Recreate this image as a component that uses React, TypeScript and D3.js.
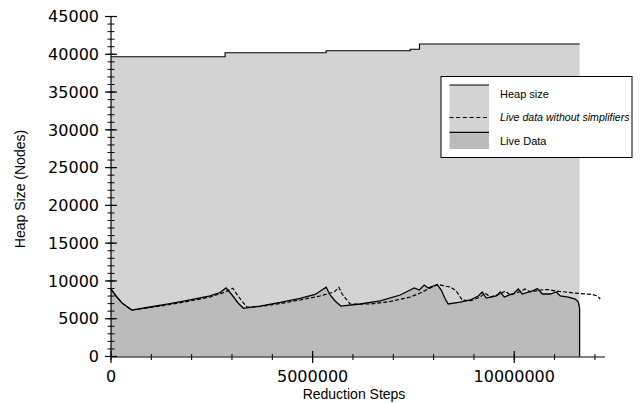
import React from "react";
import * as d3 from "d3";

// Heap size (step function)
const heapSteps = [0, 2.829e6, 5.335e6, 7.419e6, 7.65e6, 11.62e6];
const heapNodes = [39680, 40210, 40470, 40660, 41360, 41360];

// Live data (solid)
const liveSteps = [0, 0.124, 0.273, 0.514, 0.968, 1.464, 1.96, 2.457, 2.705, 2.854, 3.002, 3.151, 3.283, 3.697, 4.194, 4.69, 5.062, 5.335, 5.434, 5.558, 5.7, 6.179, 6.675, 7.171, 7.419, 7.519, 7.643, 7.767, 7.866, 7.99, 8.089, 8.189, 8.288, 8.362, 8.66, 8.908, 9.107, 9.206, 9.305, 9.553, 9.653, 9.752, 10.0, 10.099, 10.199, 10.447, 10.571, 10.695, 10.893, 11.042, 11.141, 11.34, 11.514, 11.588, 11.62].map((v) => v * 1e6);
const liveNodes = [8930, 8010, 7080, 6150, 6550, 7010, 7480, 8010, 8470, 9070, 8140, 7080, 6380, 6680, 7150, 7680, 8210, 9160, 8140, 7350, 6680, 6950, 7350, 8140, 8800, 9070, 8800, 9460, 9070, 9330, 9530, 8800, 7610, 6950, 7210, 7480, 8010, 8540, 7740, 8010, 8540, 7870, 8400, 8930, 8270, 8670, 9000, 8270, 8270, 8540, 8010, 7870, 7610, 7210, 6420];

// Live data without simplifiers (dashed)
const rawSteps = [0, 0.124, 0.273, 0.514, 0.968, 1.464, 1.96, 2.457, 2.829, 3.02, 3.102, 3.226, 3.367, 3.697, 4.194, 4.69, 5.186, 5.533, 5.65, 5.732, 5.831, 5.931, 6.427, 6.923, 7.419, 7.667, 7.916, 8.114, 8.263, 8.412, 8.561, 8.71, 8.908, 9.156, 9.28, 9.404, 9.653, 9.777, 9.901, 10.149, 10.273, 10.397, 10.645, 10.844, 11.017, 11.266, 11.514, 11.762, 11.935, 12.06, 12.134].map((v) => v * 1e6);
const rawNodes = [8930, 8010, 7080, 6150, 6480, 6880, 7350, 7870, 8540, 9030, 8400, 7470, 6550, 6620, 7010, 7480, 8010, 8540, 9160, 8270, 7610, 6950, 6950, 7280, 7870, 8400, 9070, 9530, 9330, 9200, 8670, 7470, 7350, 7870, 8400, 7870, 8270, 8670, 8140, 8600, 8930, 8540, 8800, 8870, 8670, 8540, 8400, 8270, 8210, 8010, 7610];

const xMajor = [0, 5000000, 10000000];
const xMinor = d3.range(0, 12.2e6, 1e6);
const yMajor = d3.range(0, 45001, 5000);
const yMinor = d3.range(0, 45001, 1000);

const legendItems = ["Heap size", "Live data without simplifiers", "Live Data"];

type P = [number, number];

export default function App() {
  const x = d3.scaleLinear().domain([0, 12.25e6]).range([111, 605]);
  const y = d3.scaleLinear().domain([0, 45000]).range([356.5, 16.5]);

  const heap: P[] = heapSteps.map((s, i) => [s, heapNodes[i]]);
  const live: P[] = liveSteps.map((s, i) => [s, liveNodes[i]]);
  const raw: P[] = rawSteps.map((s, i) => [s, rawNodes[i]]);
  const liveLinePts: P[] = [...live, [liveSteps[liveSteps.length - 1], 0]];

  const heapArea = d3.area<P>().x((d) => x(d[0])).y0(y(0)).y1((d) => y(d[1])).curve(d3.curveStepAfter);
  const heapLine = d3.line<P>().x((d) => x(d[0])).y((d) => y(d[1])).curve(d3.curveStepAfter);
  const liveArea = d3.area<P>().x((d) => x(d[0])).y0(y(0)).y1((d) => y(d[1]));
  const line = d3.line<P>().x((d) => x(d[0])).y((d) => y(d[1]));

  const font = "'DejaVu Sans', sans-serif";
  const sans = "'Liberation Sans', Arial, sans-serif";

  return (
    <svg width={641} height={403} style={{ position: "absolute", left: 0, top: 0, background: "#fff" }}>
      <path d={heapArea(heap) || ""} fill="#d3d3d3" />
      <path d={liveArea(live) || ""} fill="#bbbbbb" />
      <path d={heapLine(heap) || ""} fill="none" stroke="#000" strokeWidth={1.1} />
      <path d={line(raw) || ""} fill="none" stroke="#000" strokeWidth={1.2} strokeDasharray="4,2" />
      <path d={line(liveLinePts) || ""} fill="none" stroke="#000" strokeWidth={1.3} />

      {/* Y axis */}
      <line x1={111} x2={111} y1={y(0)} y2={y(45000)} stroke="#000" strokeWidth={1.2} />
      {yMinor.map((v) => (
        <line key={"ym" + v} x1={107.5} x2={114.5} y1={y(v)} y2={y(v)} stroke="#000" strokeWidth={1} />
      ))}
      {yMajor.map((v) => (
        <g key={"yM" + v}>
          <line x1={105} x2={117} y1={y(v)} y2={y(v)} stroke="#000" strokeWidth={1.2} />
          <text x={99} y={y(v)} dy="0.36em" textAnchor="end" fontFamily={font} fontSize={16} fill="#000">
            {v}
          </text>
        </g>
      ))}

      {/* X axis */}
      <line x1={x(0)} x2={x(12.25e6)} y1={357} y2={357} stroke="#000" strokeWidth={1.2} />
      {xMinor.map((v) => (
        <line key={"xm" + v} x1={x(v)} x2={x(v)} y1={354} y2={360} stroke="#000" strokeWidth={1} />
      ))}
      {xMajor.map((v) => (
        <g key={"xM" + v}>
          <line x1={x(v)} x2={x(v)} y1={351} y2={363} stroke="#000" strokeWidth={1.2} />
          <text x={x(v)} y={382} textAnchor="middle" fontFamily={font} fontSize={16} fill="#000">
            {v}
          </text>
        </g>
      ))}

      <text x={354} y={399} textAnchor="middle" fontFamily={sans} fontSize={14} fill="#000">
        Reduction Steps
      </text>
      <text transform="translate(25,189) rotate(-90)" textAnchor="middle" fontFamily={sans} fontSize={14} fill="#000">
        Heap Size (Nodes)
      </text>

      {/* Legend */}
      <rect x={441} y={76.5} width={191} height={81} fill="#fff" stroke="#000" strokeWidth={1} />
      <rect x={449.5} y={85} width={39.5} height={47} fill="#d3d3d3" />
      <rect x={449.5} y={132} width={39.5} height={17} fill="#bbbbbb" />
      <line x1={449.5} x2={489} y1={85} y2={85} stroke="#000" strokeWidth={1.1} />
      <line x1={449.5} x2={489} y1={117.5} y2={117.5} stroke="#000" strokeWidth={1} strokeDasharray="4,2.7" />
      <line x1={449.5} x2={489} y1={132.3} y2={132.3} stroke="#000" strokeWidth={1.2} />
      <text x={500} y={98} fontFamily={sans} fontSize={11} fill="#000">{legendItems[0]}</text>
      <text x={500} y={121} fontFamily={sans} fontSize={10.6} fontStyle="italic" fill="#000">{legendItems[1]}</text>
      <text x={500} y={145} fontFamily={sans} fontSize={11} fill="#000">{legendItems[2]}</text>
    </svg>
  );
}
